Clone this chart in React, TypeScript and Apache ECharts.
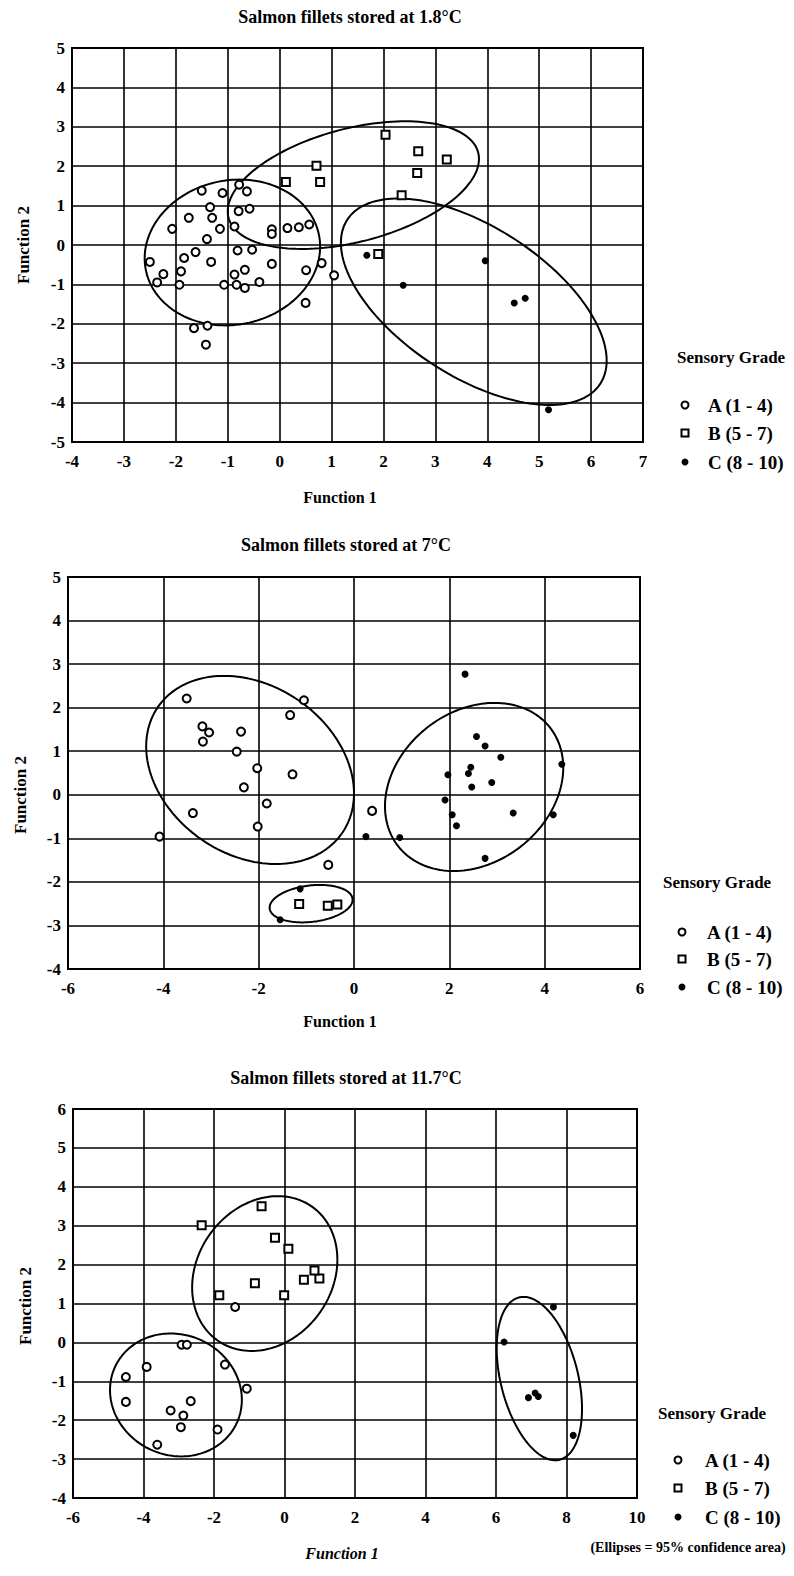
import React, { useEffect, useRef } from "react";
import * as echarts from "echarts";

// ---------------- DATA ----------------
const titles = ["Salmon fillets stored at 1.8°C", "Salmon fillets stored at 7°C", "Salmon fillets stored at 11.7°C"];
const legendTitle = "Sensory Grade";
const legendLabels = ["A (1 - 4)", "B (5 - 7)", "C (8 - 10)"];
const xName = "Function 1";
const yName = "Function 2";
const footnote = "(Ellipses = 95% confidence area)";

// Plot 1: Salmon fillets stored at 1.8°C
const p1A: number[][] = [
  [-1.5, 1.38], [-1.1, 1.32], [-0.78, 1.53], [-0.63, 1.36], [-1.34, 0.96], [-1.75, 0.69], [-1.3, 0.69],
  [-2.07, 0.41], [-1.15, 0.41], [-0.87, 0.47], [-0.79, 0.86], [-0.58, 0.92], [-1.4, 0.15], [-0.15, 0.4],
  [-0.15, 0.28], [0.15, 0.43], [0.37, 0.45], [0.57, 0.52], [-0.81, -0.14], [-0.53, -0.12], [-2.5, -0.43],
  [-2.24, -0.74], [-2.36, -0.95], [-1.84, -0.33], [-1.62, -0.18], [-1.9, -0.67], [-1.93, -1.01], [-1.32, -0.43],
  [-0.87, -0.75], [-0.67, -0.63], [-1.07, -1.01], [-0.83, -1.01], [-0.67, -1.09], [-0.39, -0.94], [-0.15, -0.48],
  [0.51, -0.64], [0.81, -0.46], [1.05, -0.77], [0.5, -1.47], [-1.65, -2.11], [-1.39, -2.05], [-1.42, -2.53],
];
const p1B: number[][] = [
  [0.12, 1.6], [0.71, 2.01], [0.78, 1.6], [2.04, 2.8], [2.67, 2.38], [3.22, 2.17], [2.65, 1.83], [2.35, 1.26], [1.9, -0.23],
];
const p1C: number[][] = [
  [1.68, -0.26], [3.96, -0.4], [2.38, -1.02], [4.52, -1.47], [4.73, -1.35], [5.18, -4.18],
];
// ellipse: centre x, centre y, half width, half height, correlation
const p1Ellipses: number[][] = [
  [-0.91, -0.19, 1.69, 1.85, 0.08],
  [1.42, 1.52, 2.42, 1.62, 0.41],
  [3.74, -1.44, 2.56, 2.62, -0.57],
];

// Plot 2: 7°C
const p2A: number[][] = [
  [-3.51, 2.21], [-3.18, 1.57], [-3.04, 1.43], [-3.17, 1.22], [-2.37, 1.45], [-2.46, 0.99], [-1.34, 1.83],
  [-1.05, 2.17], [-2.03, 0.61], [-1.29, 0.47], [-2.31, 0.17], [-1.83, -0.2], [-3.38, -0.42], [-2.02, -0.73],
  [-4.08, -0.96], [0.38, -0.37], [-0.54, -1.61],
];
const p2B: number[][] = [[-1.15, -2.51], [-0.55, -2.55], [-0.35, -2.52]];
const p2C: number[][] = [
  [-1.13, -2.16], [-1.55, -2.87], [0.25, -0.96], [0.96, -0.98], [2.33, 2.77], [2.57, 1.34], [2.75, 1.12],
  [3.08, 0.86], [4.36, 0.7], [2.45, 0.63], [2.4, 0.49], [1.97, 0.46], [2.89, 0.28], [2.47, 0.18], [1.91, -0.12],
  [2.06, -0.46], [2.15, -0.71], [3.34, -0.42], [4.18, -0.46], [2.75, -1.46],
];
const p2Ellipses: number[][] = [
  [-2.18, 0.57, 2.18, 2.16, -0.25],
  [2.52, 0.18, 1.87, 1.93, 0.23],
  [-0.9, -2.5, 0.87, 0.43, 0.21],
];

// Plot 3: 11.7°C
const p3A: number[][] = [
  [-1.4, 0.91], [-2.92, -0.06], [-2.77, -0.06], [-3.91, -0.63], [-4.5, -0.89], [-4.5, -1.53],
  [-1.69, -0.57], [-1.07, -1.19], [-2.66, -1.51], [-3.23, -1.75], [-2.87, -1.88], [-2.94, -2.18], [-1.9, -2.24],
  [-3.61, -2.63],
];
const p3B: number[][] = [
  [-2.35, 3.01], [-0.65, 3.5], [-0.27, 2.69], [0.11, 2.41], [0.55, 1.61], [0.99, 1.64], [0.85, 1.85],
  [-0.84, 1.52], [-1.85, 1.21], [-0.01, 1.21],
];
const p3C: number[][] = [[7.63, 0.91], [6.23, 0.01], [6.92, -1.42], [7.11, -1.3], [7.2, -1.39], [8.19, -2.39]];
const p3Ellipses: number[][] = [
  [-3.08, -1.35, 1.87, 1.58, -0.08],
  [-0.56, 1.77, 2.06, 1.99, 0.18],
  [7.23, -0.93, 1.21, 2.1, -0.37],
];

// axis ranges: [xmin, xmax, xint, ymin, ymax, yint]
const axisRanges: number[][] = [
  [-4, 7, 1, -5, 5, 1],
  [-6, 6, 2, -4, 5, 1],
  [-6, 10, 2, -4, 6, 1],
];

// ---------------- LAYOUT ----------------
const FONT = "'Liberation Serif', 'Times New Roman', serif";
const grids = [
  { left: 72, top: 48, width: 571, height: 394 },
  { left: 68, top: 577, width: 572, height: 392 },
  { left: 73, top: 1109, width: 564, height: 389 },
];
const titlePos = [[350, 17], [346, 545], [346, 1078]];
const xNamePos = [[340, 497], [340, 1021], [342, 1553]];
const yNamePos = [[23, 245], [20, 795], [25, 1306]];
const legendPos = [
  { tx: 677, ty: 357, mx: 685, tx2: 708, ys: [405, 433, 462] },
  { tx: 663, ty: 882, mx: 682, tx2: 707, ys: [932, 959, 987] },
  { tx: 658, ty: 1413, mx: 678, tx2: 705, ys: [1460, 1488, 1517] },
];

function ellipsePoints(e: number[]): number[][] {
  const [cx, cy, hw, hh, r] = e;
  const pts: number[][] = [];
  const n = 160;
  const s = Math.sqrt(1 - r * r);
  for (let i = 0; i <= n; i++) {
    const t = (i / n) * Math.PI * 2;
    pts.push([cx + hw * Math.cos(t), cy + hh * (r * Math.cos(t) + s * Math.sin(t))]);
  }
  return pts;
}

export default function App() {
  const ref = useRef<HTMLDivElement>(null);
  useEffect(() => {
    if (!ref.current) return;
    const chart = echarts.init(ref.current, undefined, { renderer: "svg" });
    const sets = [
      [p1A, p1B, p1C, p1Ellipses],
      [p2A, p2B, p2C, p2Ellipses],
      [p3A, p3B, p3C, p3Ellipses],
    ] as any[];

    const xAxis: any[] = [];
    const yAxis: any[] = [];
    const series: any[] = [];
    const graphic: any[] = [];
    const labelStyle = { color: "#000", fontFamily: FONT, fontSize: 17, fontWeight: "bold" };

    sets.forEach((set: any[], i: number) => {
      const [xmin, xmax, xint, ymin, ymax, yint] = axisRanges[i];
      const split = { show: true, lineStyle: { color: "#000", width: 1.6 } };
      xAxis.push({
        type: "value", gridIndex: i, min: xmin, max: xmax, interval: xint,
        axisLine: { show: false }, axisTick: { show: false }, splitLine: split,
        axisLabel: { ...labelStyle, margin: 11 },
      });
      yAxis.push({
        type: "value", gridIndex: i, min: ymin, max: ymax, interval: yint,
        axisLine: { show: false }, axisTick: { show: false }, splitLine: split,
        axisLabel: { ...labelStyle, margin: 7 },
      });
      (set[3] as number[][]).forEach((e) => {
        series.push({
          type: "line", xAxisIndex: i, yAxisIndex: i, data: ellipsePoints(e),
          showSymbol: false, symbol: "none", silent: true, z: 2,
          lineStyle: { color: "#000", width: 2 },
        });
      });
      series.push({
        type: "scatter", name: legendLabels[0], xAxisIndex: i, yAxisIndex: i, data: set[0],
        symbol: "circle", symbolSize: 8, z: 3,
        itemStyle: { color: "#fff", borderColor: "#000", borderWidth: 2, opacity: 1 },
      });
      series.push({
        type: "scatter", name: legendLabels[1], xAxisIndex: i, yAxisIndex: i, data: set[1],
        symbol: "rect", symbolSize: 8, z: 3,
        itemStyle: { color: "#fff", borderColor: "#000", borderWidth: 2, opacity: 1 },
      });
      series.push({
        type: "scatter", name: legendLabels[2], xAxisIndex: i, yAxisIndex: i, data: set[2],
        symbol: "circle", symbolSize: 7, z: 3,
        itemStyle: { color: "#000", opacity: 1 },
      });

      graphic.push({
        type: "text", x: titlePos[i][0], y: titlePos[i][1],
        style: { text: titles[i], fill: "#000", font: `bold 18px ${FONT}`, textAlign: "center", textVerticalAlign: "middle" },
      });
      graphic.push({
        type: "text", x: xNamePos[i][0], y: xNamePos[i][1],
        style: { text: xName, fill: "#000", font: `${i === 2 ? "italic " : ""}bold 16px ${FONT}`, textAlign: "center", textVerticalAlign: "middle" },
      });
      graphic.push({
        type: "text", x: yNamePos[i][0], y: yNamePos[i][1], rotation: Math.PI / 2,
        style: { text: yName, fill: "#000", font: `bold 17px ${FONT}`, textAlign: "center", textVerticalAlign: "middle" },
      });
      const lp = legendPos[i];
      graphic.push({
        type: "text", x: lp.tx, y: lp.ty,
        style: { text: legendTitle, fill: "#000", font: `bold 17px ${FONT}`, textAlign: "left", textVerticalAlign: "middle" },
      });
      graphic.push({ type: "circle", shape: { cx: lp.mx, cy: lp.ys[0], r: 3.5 }, style: { fill: "#fff", stroke: "#000", lineWidth: 2 } });
      graphic.push({ type: "rect", shape: { x: lp.mx - 3.5, y: lp.ys[1] - 3.5, width: 7, height: 7 }, style: { fill: "#fff", stroke: "#000", lineWidth: 2 } });
      graphic.push({ type: "circle", shape: { cx: lp.mx, cy: lp.ys[2], r: 3.5 }, style: { fill: "#000" } });
      legendLabels.forEach((lab, k) => {
        graphic.push({
          type: "text", x: lp.tx2, y: lp.ys[k],
          style: { text: lab, fill: "#000", font: `bold 19px ${FONT}`, textAlign: "left", textVerticalAlign: "middle" },
        });
      });
    });
    graphic.push({
      type: "text", x: 688, y: 1547,
      style: { text: footnote, fill: "#000", font: `bold 14px ${FONT}`, textAlign: "center", textVerticalAlign: "middle" },
    });

    chart.setOption({
      animation: false,
      backgroundColor: "#fff",
      grid: grids.map((g) => ({ ...g, show: true, borderColor: "#000", borderWidth: 2, containLabel: false })),
      xAxis,
      yAxis,
      series,
      graphic,
    });
    return () => chart.dispose();
  }, []);
  return <div ref={ref} style={{ position: "absolute", left: 0, top: 0, width: 794, height: 1576 }} />;
}
